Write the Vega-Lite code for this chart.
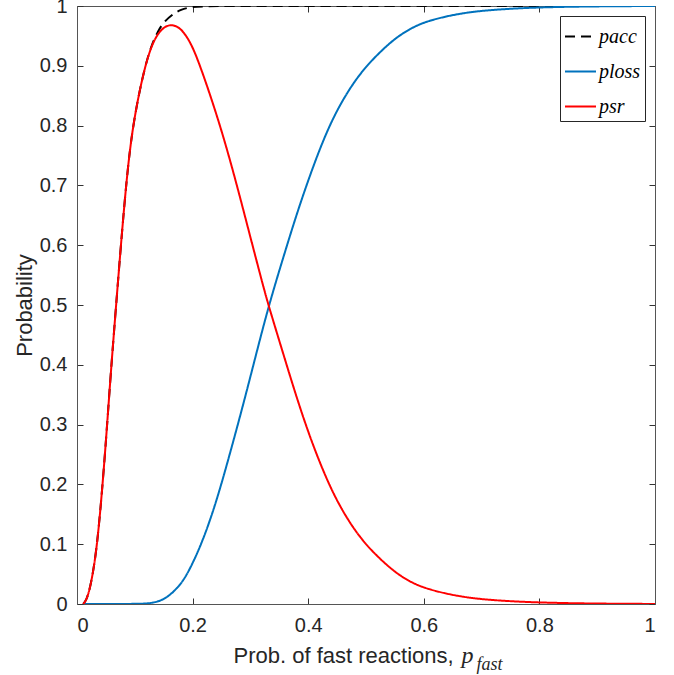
{
  "$schema": "https://vega.github.io/schema/vega-lite/v6.json",
  "width": 578,
  "height": 598,
  "autosize": {"type": "none"},
  "padding": {"left": 77, "top": 6, "right": 19, "bottom": 71},
  "background": "white",
  "config": {
    "view": {"stroke": null},
    "font": "Liberation Sans",
    "axis": {
      "grid": false,
      "labelFont": "Liberation Sans",
      "labelFontSize": 20,
      "labelColor": "#262626",
      "titleFont": "Liberation Sans",
      "titleFontSize": 22,
      "titleFontWeight": "normal",
      "titleColor": "#262626",
      "domainColor": "#555555",
      "domainWidth": 1,
      "tickColor": "#333333",
      "tickWidth": 1,
      "tickSize": -6
    }
  },
  "data": {
    "values": [
      {"x": 0.0107, "y": 0, "series": "acc"},
      {"x": 0.016, "y": 0.006, "series": "acc"},
      {"x": 0.0223, "y": 0.025, "series": "acc"},
      {"x": 0.03, "y": 0.065, "series": "acc"},
      {"x": 0.0367, "y": 0.117, "series": "acc"},
      {"x": 0.0443, "y": 0.2, "series": "acc"},
      {"x": 0.0512, "y": 0.287, "series": "acc"},
      {"x": 0.0587, "y": 0.39, "series": "acc"},
      {"x": 0.0685, "y": 0.51, "series": "acc"},
      {"x": 0.0772, "y": 0.615, "series": "acc"},
      {"x": 0.0858, "y": 0.71, "series": "acc"},
      {"x": 0.0945, "y": 0.785, "series": "acc"},
      {"x": 0.106, "y": 0.848, "series": "acc"},
      {"x": 0.1175, "y": 0.898, "series": "acc"},
      {"x": 0.129, "y": 0.935, "series": "acc"},
      {"x": 0.14, "y": 0.958, "series": "acc"},
      {"x": 0.15, "y": 0.973, "series": "acc"},
      {"x": 0.166, "y": 0.987, "series": "acc"},
      {"x": 0.18, "y": 0.994, "series": "acc"},
      {"x": 0.195, "y": 0.998, "series": "acc"},
      {"x": 0.22, "y": 1, "series": "acc"},
      {"x": 0.3, "y": 1, "series": "acc"},
      {"x": 0.5, "y": 1, "series": "acc"},
      {"x": 1, "y": 1, "series": "acc"},

      {"x": 0.0107, "y": 0, "series": "loss"},
      {"x": 0.1, "y": 0, "series": "loss"},
      {"x": 0.126, "y": 0.001, "series": "loss"},
      {"x": 0.14, "y": 0.004, "series": "loss"},
      {"x": 0.155, "y": 0.01, "series": "loss"},
      {"x": 0.178, "y": 0.03, "series": "loss"},
      {"x": 0.195, "y": 0.057, "series": "loss"},
      {"x": 0.218, "y": 0.106, "series": "loss"},
      {"x": 0.2415, "y": 0.172, "series": "loss"},
      {"x": 0.2645, "y": 0.251, "series": "loss"},
      {"x": 0.2875, "y": 0.333, "series": "loss"},
      {"x": 0.31, "y": 0.418, "series": "loss"},
      {"x": 0.332, "y": 0.5, "series": "loss"},
      {"x": 0.357, "y": 0.58, "series": "loss"},
      {"x": 0.38, "y": 0.652, "series": "loss"},
      {"x": 0.403, "y": 0.717, "series": "loss"},
      {"x": 0.426, "y": 0.776, "series": "loss"},
      {"x": 0.449, "y": 0.825, "series": "loss"},
      {"x": 0.478, "y": 0.872, "series": "loss"},
      {"x": 0.507, "y": 0.907, "series": "loss"},
      {"x": 0.547, "y": 0.944, "series": "loss"},
      {"x": 0.576, "y": 0.962, "series": "loss"},
      {"x": 0.605, "y": 0.975, "series": "loss"},
      {"x": 0.662, "y": 0.988, "series": "loss"},
      {"x": 0.72, "y": 0.994, "series": "loss"},
      {"x": 0.8, "y": 0.998, "series": "loss"},
      {"x": 0.9, "y": 0.9995, "series": "loss"},
      {"x": 1, "y": 1, "series": "loss"},

      {"x": 0.0107, "y": 0, "series": "sr"},
      {"x": 0.016, "y": 0.006, "series": "sr"},
      {"x": 0.0223, "y": 0.025, "series": "sr"},
      {"x": 0.03, "y": 0.065, "series": "sr"},
      {"x": 0.0367, "y": 0.117, "series": "sr"},
      {"x": 0.0443, "y": 0.2, "series": "sr"},
      {"x": 0.0512, "y": 0.287, "series": "sr"},
      {"x": 0.0587, "y": 0.39, "series": "sr"},
      {"x": 0.0685, "y": 0.51, "series": "sr"},
      {"x": 0.0772, "y": 0.615, "series": "sr"},
      {"x": 0.0858, "y": 0.71, "series": "sr"},
      {"x": 0.0945, "y": 0.785, "series": "sr"},
      {"x": 0.106, "y": 0.848, "series": "sr"},
      {"x": 0.1175, "y": 0.898, "series": "sr"},
      {"x": 0.129, "y": 0.934, "series": "sr"},
      {"x": 0.14, "y": 0.954, "series": "sr"},
      {"x": 0.152, "y": 0.966, "series": "sr"},
      {"x": 0.164, "y": 0.969, "series": "sr"},
      {"x": 0.175, "y": 0.965, "series": "sr"},
      {"x": 0.184, "y": 0.957, "series": "sr"},
      {"x": 0.195, "y": 0.941, "series": "sr"},
      {"x": 0.207, "y": 0.916, "series": "sr"},
      {"x": 0.23, "y": 0.853, "series": "sr"},
      {"x": 0.253, "y": 0.783, "series": "sr"},
      {"x": 0.276, "y": 0.703, "series": "sr"},
      {"x": 0.299, "y": 0.617, "series": "sr"},
      {"x": 0.322, "y": 0.532, "series": "sr"},
      {"x": 0.332, "y": 0.497, "series": "sr"},
      {"x": 0.357, "y": 0.418, "series": "sr"},
      {"x": 0.38, "y": 0.345, "series": "sr"},
      {"x": 0.403, "y": 0.279, "series": "sr"},
      {"x": 0.426, "y": 0.222, "series": "sr"},
      {"x": 0.449, "y": 0.173, "series": "sr"},
      {"x": 0.478, "y": 0.126, "series": "sr"},
      {"x": 0.507, "y": 0.091, "series": "sr"},
      {"x": 0.547, "y": 0.055, "series": "sr"},
      {"x": 0.576, "y": 0.037, "series": "sr"},
      {"x": 0.605, "y": 0.025, "series": "sr"},
      {"x": 0.662, "y": 0.012, "series": "sr"},
      {"x": 0.72, "y": 0.006, "series": "sr"},
      {"x": 0.8, "y": 0.0022, "series": "sr"},
      {"x": 0.9, "y": 0.0006, "series": "sr"},
      {"x": 1, "y": 0.0001, "series": "sr"}
    ]
  },
  "resolve": {"axis": {"x": "independent", "y": "independent"}},
  "layer": [
    {
      "mark": {"type": "line", "strokeWidth": 2, "interpolate": "basis", "clip": true},
      "encoding": {
        "x": {
          "field": "x", "type": "quantitative",
          "scale": {"domain": [0, 1], "nice": false},
          "axis": {
            "orient": "bottom",
            "values": [0, 0.2, 0.4, 0.6, 0.8, 1],
            "format": ".1~f",
            "labelPadding": 17,
            "title": "Prob. of fast reactions,",
            "titleAnchor": "start",
            "titleAlign": "left",
            "titleBaseline": "alphabetic",
            "titleX": 156,
            "titleY": 58
          }
        },
        "y": {
          "field": "y", "type": "quantitative",
          "scale": {"domain": [0, 1], "nice": false},
          "axis": {
            "orient": "left",
            "values": [0, 0.1, 0.2, 0.3, 0.4, 0.5, 0.6, 0.7, 0.8, 0.9, 1],
            "format": ".1~f",
            "labelPadding": 16,
            "title": "Probability",
            "titlePadding": 3
          }
        },
        "color": {
          "field": "series", "type": "nominal",
          "scale": {"domain": ["acc", "loss", "sr"], "range": ["#000000", "#0072BD", "#FF0000"]},
          "legend": {
            "title": null,
            "orient": "top-right",
            "offset": 10,
            "labelExpr": "'p' + datum.label",
            "labelFont": "Liberation Serif",
            "labelFontStyle": "italic",
            "labelFontSize": 20,
            "labelColor": "#000000",
            "symbolType": "stroke",
            "symbolSize": 961,
            "symbolStrokeWidth": 2,
            "rowPadding": 8,
            "labelOffset": 2,
            "padding": 4,
            "strokeColor": "#262626",
            "fillColor": "white"
          }
        },
        "strokeDash": {
          "field": "series", "type": "nominal",
          "scale": {"domain": ["acc", "loss", "sr"], "range": [[10, 6], [1, 0], [1, 0]]},
          "legend": {
            "title": null,
            "orient": "top-right",
            "offset": 10,
            "labelExpr": "'p' + datum.label",
            "labelFont": "Liberation Serif",
            "labelFontStyle": "italic",
            "labelFontSize": 20,
            "labelColor": "#000000",
            "symbolType": "stroke",
            "symbolSize": 961,
            "symbolStrokeWidth": 2,
            "rowPadding": 8,
            "labelOffset": 2,
            "padding": 4,
            "strokeColor": "#262626",
            "fillColor": "white"
          }
        }
      }
    },
    {
      "mark": {"type": "line", "opacity": 0},
      "encoding": {
        "x": {
          "field": "x", "type": "quantitative",
          "axis": {"orient": "top", "values": [0, 0.2, 0.4, 0.6, 0.8, 1], "labels": false, "title": null}
        },
        "y": {
          "field": "y", "type": "quantitative",
          "axis": {"orient": "right", "values": [0, 0.1, 0.2, 0.3, 0.4, 0.5, 0.6, 0.7, 0.8, 0.9, 1], "labels": false, "title": null}
        },
        "detail": {"field": "series"}
      }
    },
    {
      "mark": {"type": "line", "opacity": 0},
      "encoding": {
        "x": {
          "field": "x", "type": "quantitative",
          "axis": {
            "orient": "bottom", "labels": false, "ticks": false, "domain": false,
            "title": "p",
            "titleFont": "Liberation Serif", "titleFontStyle": "italic", "titleFontSize": 24,
            "titleColor": "#262626",
            "titleAnchor": "start", "titleAlign": "left", "titleBaseline": "alphabetic",
            "titleX": 384, "titleY": 58
          }
        },
        "y": {"field": "y", "type": "quantitative", "axis": null},
        "detail": {"field": "series"}
      }
    },
    {
      "mark": {"type": "line", "opacity": 0},
      "encoding": {
        "x": {
          "field": "x", "type": "quantitative",
          "axis": {
            "orient": "bottom", "labels": false, "ticks": false, "domain": false,
            "title": "fast",
            "titleFont": "Liberation Serif", "titleFontStyle": "italic", "titleFontSize": 18,
            "titleColor": "#262626",
            "titleAnchor": "start", "titleAlign": "left", "titleBaseline": "alphabetic",
            "titleX": 399, "titleY": 65
          }
        },
        "y": {"field": "y", "type": "quantitative", "axis": null},
        "detail": {"field": "series"}
      }
    }
  ]
}
